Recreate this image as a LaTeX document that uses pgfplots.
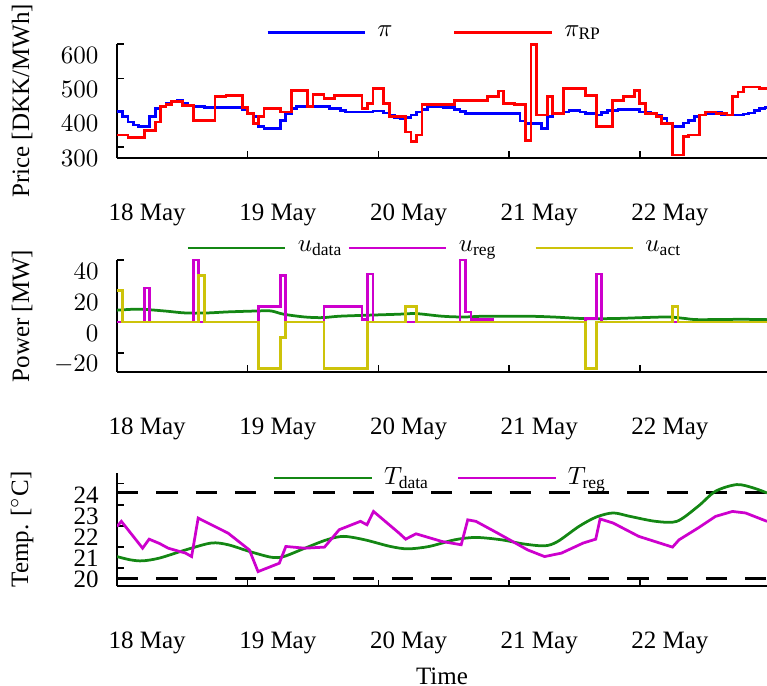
\documentclass[border=0pt]{standalone}
\usepackage[no-math]{fontspec}
\setmainfont{Liberation Serif}
\usepackage{pgfplots}
\pgfplotsset{compat=1.18}
\definecolor{cblue}{RGB}{0,0,255}
\definecolor{cred}{RGB}{255,0,0}
\definecolor{cgreen}{RGB}{20,135,20}
\definecolor{cmag}{RGB}{205,0,205}
\definecolor{cyel}{RGB}{205,195,10}
\newcommand{\sub}[1]{\mbox{\scriptsize #1}}
\pgfplotsset{
  panel/.style={
    scale only axis, width=260pt,
    axis lines*=left, axis line style={-, line width=0.6pt, black},
    tick align=inside, major tick length=2.6pt, tick style={line width=0.6pt, black},
    xmin=0, xmax=119.35,
    xtick={0,24,48,72,96}, xticklabels={18 May,19 May,20 May,21 May,22 May},
    xticklabel style={anchor=west, xshift=-6.9pt, yshift=-22.8pt},
    yticklabel style={inner sep=0.5pt, xshift=-6.7pt, yshift=-4.5pt},
    every axis y label/.style={at={(axis description cs:-0.146,0.5)}, rotate=90, anchor=center},
    legend style={draw=none, fill=none, legend columns=-1, anchor=center,
      /tikz/every odd column/.append style={column sep=2.4pt}},
    legend image code/.code={\draw[line width=1.1pt,##1] (0pt,0pt) -- (39pt,0pt);},
  }
}
\begin{document}
\begin{tikzpicture}
\begin{axis}[panel, at={(0pt,0pt)}, anchor=south west, height=45.6pt,
  ymin=268, ymax=600, ytick={300,400,500,600},
  ylabel={Price [DKK/MWh]},
  legend style={at={(0.491,1.1)}, /tikz/every even column/.append style={column sep=22.2pt}}]
\addplot[cblue, line width=1.1pt, const plot] coordinates {(0,404)(1,388)(2,373)(3,364)(4,359)(6,388)(7,412)(8,419)(9,426)(10,433)(11,436)(12,426)(13,421)(14,417)(16,414)(23,409)(24,397)(25,388)(26,359)(27,354)(30,378)(31,397)(32,412)(33,417)(39,412)(41,407)(42,402)(47,405)(49,399)(50,393)(51,386)(52,383)(53,386)(54,393)(55,402)(56,409)(57,417)(60,415)(62,410)(63,404)(64,397)(74,376)(75,368)(78,354)(79,388)(80,397)(82,402)(83,407)(85,402)(86,397)(88,393)(89,400)(90,407)(92,409)(96,402)(98,397)(99,393)(100,383)(101,368)(102,359)(104,370)(105,378)(106,388)(107,393)(108,397)(110,402)(111,393)(115,396)(116,399)(117,407)(118,412)(119,415)(119.35,415)};
\addlegendentry{$\pi$}
\addplot[cred, line width=1.1pt, const plot] coordinates {(0,335)(2,327)(5,349)(7,373)(8,417)(9,424)(10,433)(12,421)(14,378)(18,446)(20,450)(23,415)(24,397)(25,368)(26,388)(27,412)(30,402)(32,465)(35,418)(36,453)(38,441)(40,450)(45,412)(46,426)(47,470)(49,426)(50,388)(53,344)(54,315)(55,335)(56,424)(62,436)(68,446)(70,463)(71,426)(73,424)(75,320)(76,598)(77,393)(79,446)(80,397)(82,470)(86,450)(88,359)(91,436)(93,446)(95,465)(96,426)(97,397)(99,388)(100,368)(102,277)(104,330)(105,335)(107,393)(108,402)(110,397)(112,393)(113,446)(114,460)(115,475)(118,470)(119.35,470)};
\addlegendentry{$\pi_{\sub{RP}}$}
\end{axis}

\begin{axis}[panel, at={(0pt,-85.6pt)}, anchor=south west, height=44.8pt,
  ymin=-32.3, ymax=40, ytick={-20,0,20,40},
  ylabel={Power [MW]},
  legend style={at={(0.4915,1.107)}, /tikz/every even column/.append style={column sep=0pt}}]
\addplot[cgreen, line width=1.1pt, smooth] coordinates {(0,7.6)(3,8.2)(5.5,8.0)(9,7)(12.6,5.8)(16.5,5.8)(20.4,6.5)(25.9,7.1)(28.3,7.1)(30.6,5.0)(34.5,3.2)(37.7,2.8)(40.8,3.7)(45.5,4.3)(51.8,5.0)(54.9,5.4)(59.7,3.7)(63.6,3.2)(67.5,3.7)(75.4,3.7)(80.1,3.2)(85.6,2.2)(91.1,2.2)(96.5,2.8)(101.3,3.2)(104.4,2.2)(106.7,1.5)(114.6,1.7)(119.35,1.5)};
\addlegendentry{$u_{\sub{data}}$}
\addplot[cmag, line width=1.1pt, const plot] coordinates {(0,0)(5,22)(6,0)(14,40)(15,0)(26,10)(30,30)(31,0)(38,10)(45,1.5)(46,31)(47,0)(63,40)(64,6.5)(65,1.5)(69,0)(86,2)(88,31)(89,0)(119.35,0)};
\addlegendentry{$u_{\sub{reg}}$\rule{13pt}{0pt}}
\addplot[cyel, line width=1.1pt, const plot] coordinates {(0,20.5)(1,0)(15,30)(16,0)(26,-30)(30,-10)(31,0)(38,-30)(46,0)(53,10)(55,0)(86,-30)(88,0)(102,10)(103,0)(119.35,0)};
\addlegendentry{$u_{\sub{act}}$}
\end{axis}

\begin{axis}[panel, at={(0pt,-171.2pt)}, anchor=south west, height=45.2pt,
  ymin=19.67, ymax=24.93, ytick={20.51,21.49,22.47,23.45,24.43}, yticklabels={20,21,22,23,24},
  ylabel={Temp. [$^\circ$C]}, xlabel={Time},
  xlabel style={at={(axis description cs:0.5,0)}, anchor=center, yshift=-36pt},
  legend style={at={(0.5,0.956)}, /tikz/every even column/.append style={column sep=9pt}}]
\addplot[black, line width=1.2pt, dash pattern=on 8.5pt off 7.2pt, forget plot] coordinates {(0,24)(119.35,24)};
\addplot[black, line width=1.2pt, dash pattern=on 8.5pt off 7.2pt, forget plot] coordinates {(0,20)(119.35,20)};
\addplot[cgreen, line width=1.1pt, smooth] coordinates {(0,21.04)(2.4,20.89)(4.7,20.84)(7.8,20.97)(12.6,21.35)(17.3,21.67)(20.4,21.59)(24.3,21.28)(28.3,21.01)(30.6,21.04)(34.5,21.43)(38.5,21.82)(41.6,21.98)(45.5,21.82)(50.2,21.51)(53.4,21.40)(57.3,21.51)(62,21.82)(65.9,21.93)(70.6,21.82)(74.6,21.63)(78.5,21.54)(80.9,21.74)(84.8,22.44)(88,22.88)(91.1,23.07)(94.2,22.91)(98.9,22.68)(102.8,22.68)(106.7,23.38)(109.9,24.08)(113.8,24.39)(116.9,24.23)(119.35,24.0)};
\addlegendentry{$T_{\sub{data}}$}
\addplot[cmag, line width=1.1pt] coordinates {(0,22.44)(0.8,22.68)(4.7,21.43)(5.9,21.85)(7.8,21.65)(9.4,21.43)(12.6,21.2)(13.7,21.04)(14.9,22.83)(20.4,22.13)(24.3,21.35)(25.9,20.34)(29.8,20.73)(31,21.51)(34.5,21.43)(38.1,21.48)(40.8,22.29)(44.7,22.68)(45.9,22.52)(47.1,23.14)(51.8,22.13)(53,21.85)(54.9,22.1)(59.7,21.74)(63.2,21.59)(64.4,22.75)(65.9,22.68)(69.9,22.13)(75.4,21.35)(78.5,21.04)(81.6,21.2)(85.6,21.67)(87.9,21.85)(88.7,22.79)(91.1,22.6)(95.8,21.98)(102.0,21.48)(103.2,21.82)(106.7,22.37)(109.9,22.91)(113.0,23.14)(115.4,23.07)(119.35,22.68)};
\addlegendentry{$T_{\sub{reg}}$}
\end{axis}
\pgfresetboundingbox
\path[use as bounding box] (-46.8pt,-211.2pt) rectangle (260pt,63.2pt);
\end{tikzpicture}
\end{document}
